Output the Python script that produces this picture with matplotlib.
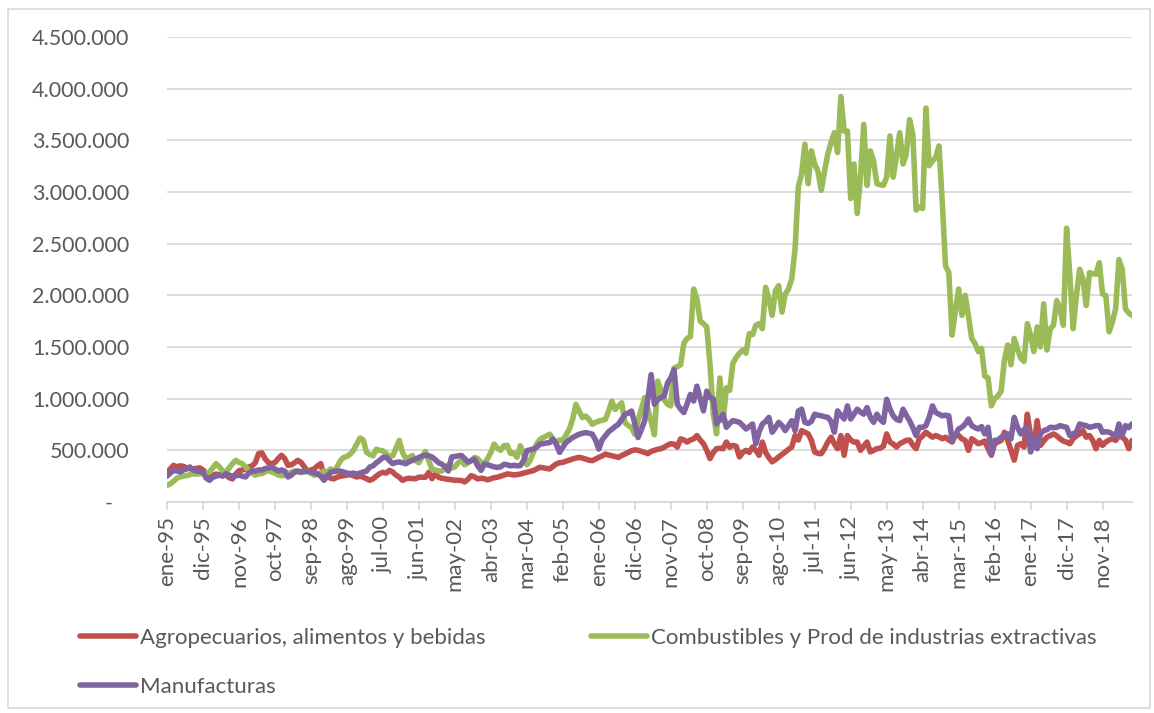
import matplotlib
matplotlib.use("Agg")
import matplotlib.pyplot as plt
from matplotlib.patches import Rectangle
from matplotlib.ticker import FuncFormatter

plt.rcParams['font.family'] = ['Lato', 'DejaVu Sans']

# === Data (thousands), monthly ene-95 .. ago-19 ===
meses = ["ene", "feb", "mar", "abr", "may", "jun", "jul", "ago", "sep", "oct", "nov", "dic"]

agro = [
    290, 320, 355, 340, 350, 345, 330, 323, 320, 325, 330, 310,  # 1995
    280, 240, 260, 270, 265, 258, 262, 235, 224, 270, 303, 310,  # 1996
    320, 339, 350, 380, 468, 475, 419, 380, 371, 383, 420, 452,  # 1997
    420, 355, 360, 380, 403, 383, 339, 300, 310, 320, 350, 371,  # 1998
    260, 250, 230, 224, 240, 250, 255, 260, 265, 255, 242, 250,  # 1999
    240, 225, 210, 224, 250, 274, 287, 280, 306, 290, 260, 240,  # 2000
    210, 224, 230, 226, 226, 240, 240, 240, 287, 226, 274, 240,  # 2001
    230, 224, 220, 215, 210, 210, 208, 194, 220, 255, 242, 224,  # 2002
    230, 225, 215, 225, 235, 240, 250, 260, 272, 268, 262, 265,  # 2003
    270, 280, 288, 295, 304, 320, 336, 330, 325, 320, 345, 368,  # 2004
    380, 384, 395, 405, 416, 425, 432, 425, 416, 405, 400, 415,  # 2005
    432, 445, 464, 455, 448, 440, 432, 450, 464, 480, 496, 505,  # 2006
    500, 490, 480, 468, 490, 500, 510, 516, 530, 550, 564, 560,  # 2007
    532, 611, 600, 580, 600, 611, 643, 600, 564, 500, 420, 480,  # 2008
    516, 520, 516, 580, 530, 548, 540, 436, 480, 500, 480, 532,  # 2009
    500, 452, 580, 480, 430, 389, 410, 436, 460, 484, 510, 532,  # 2010
    643, 600, 691, 675, 659, 596, 484, 470, 468, 516, 580, 627,  # 2011
    564, 516, 643, 452, 643, 600, 580, 580, 500, 540, 580, 484,  # 2012
    500, 516, 520, 540, 659, 580, 560, 532, 564, 580, 596, 600,  # 2013
    550, 516, 612, 640, 675, 650, 627, 643, 630, 612, 627, 600,  # 2014
    580, 643, 643, 612, 596, 500, 612, 590, 564, 575, 590, 516,  # 2015
    452, 564, 580, 596, 675, 596, 500, 405, 548, 564, 532, 850,  # 2016
    643, 532, 787, 548, 590, 627, 643, 659, 640, 612, 590, 580,  # 2017
    564, 612, 640, 659, 691, 627, 643, 596, 516, 596, 548, 580,  # 2018
    600, 612, 596, 643, 627, 600, 516, 596,                      # 2019
]

combustibles = [
    161, 175, 200, 230, 242, 250, 255, 265, 274, 270, 272, 275,
    278, 290, 330, 371, 340, 300, 290, 330, 370, 403, 383, 371,
    340, 306, 280, 260, 274, 274, 290, 306, 290, 280, 260, 255,
    258, 270, 290, 300, 290, 285, 290, 300, 280, 258, 270, 280,
    300, 290, 320, 300, 340, 400, 431, 440, 463, 500, 560, 620,
    600, 480, 460, 447, 511, 500, 495, 470, 440, 447, 520, 597,
    480, 420, 430, 450, 400, 380, 440, 490, 400, 320, 310, 300,
    300, 320, 360, 330, 340, 380, 400, 360, 380, 400, 431, 420,
    380, 370, 420, 480, 560, 520, 500, 544, 548, 470, 475, 432,
    544, 470, 360, 400, 480, 560, 606, 624, 640, 656, 610, 576,
    600, 592, 650, 704, 800, 944, 880, 816, 832, 800, 752, 770,
    784, 790, 800, 880, 976, 896, 930, 960, 768, 740, 720, 656,
    787, 900, 1010, 900, 780, 650, 1170, 1080, 990, 946, 930, 1296,
    1310, 1328, 1535, 1583, 1600, 2061, 1965, 1750, 1726, 1694, 1328, 850,
    660, 1200, 787, 1105, 1080, 1344, 1400, 1440, 1471, 1440, 1630, 1620,
    1710, 1726, 1678, 2077, 1965, 1806, 2045, 2093, 1838, 2013, 2061, 2161,
    2450, 3050, 3175, 3462, 3080, 3398, 3271, 3200, 3016, 3200, 3366, 3480,
    3574, 3382, 3924, 3590, 3590, 2937, 3271, 2793, 3143, 3653, 3064, 3398,
    3303, 3080, 3070, 3064, 3143, 3542, 3143, 3350, 3574, 3271, 3366, 3701,
    3558, 2825, 2857, 2840, 3812, 3255, 3300, 3335, 3446, 2900, 2284, 2220,
    1615, 1850, 2061, 1806, 2000, 1800, 1583, 1535, 1456, 1487, 1217, 1201,
    930, 1000, 1026, 1073, 1376, 1519, 1328, 1583, 1480, 1392, 1360, 1726,
    1615, 1456, 1694, 1500, 1917, 1471, 1678, 1710, 1949, 1870, 1710, 2650,
    2188, 1678, 1997, 2252, 2156, 1901, 2220, 2210, 2204, 2316, 2013, 1997,
    1647, 1742, 1870, 2347, 2252, 1870, 1830, 1806,
]

manufacturas = [
    250, 280, 306, 300, 290, 310, 320, 339, 310, 300, 295, 290,
    230, 210, 240, 250, 260, 250, 274, 260, 250, 255, 260, 250,
    242, 280, 300, 300, 310, 310, 323, 330, 339, 320, 300, 310,
    300, 242, 260, 290, 300, 290, 300, 295, 290, 280, 274, 250,
    210, 250, 287, 295, 300, 298, 290, 280, 274, 280, 270, 280,
    290, 300, 339, 350, 380, 403, 431, 435, 400, 371, 383, 387,
    380, 370, 390, 403, 415, 430, 445, 452, 447, 435, 410, 380,
    367, 340, 300, 435, 440, 447, 450, 420, 387, 400, 415, 350,
    306, 368, 360, 350, 340, 335, 340, 365, 360, 350, 355, 350,
    352, 400, 496, 505, 512, 530, 560, 565, 570, 576, 608, 560,
    480, 530, 576, 600, 624, 640, 656, 665, 672, 665, 656, 600,
    512, 600, 640, 680, 704, 730, 752, 800, 848, 860, 880, 760,
    624, 700, 784, 1000, 1233, 946, 990, 1010, 1026, 1150, 1201, 1280,
    946, 900, 866, 950, 1041, 978, 1121, 1000, 882, 1073, 1010, 1000,
    755, 800, 850, 723, 760, 787, 780, 771, 740, 707, 730, 755,
    564, 680, 755, 780, 819, 675, 720, 771, 740, 691, 740, 787,
    691, 880, 898, 771, 760, 780, 850, 840, 835, 825, 819, 780,
    675, 882, 840, 803, 930, 803, 850, 898, 870, 850, 914, 820,
    771, 850, 800, 771, 994, 900, 834, 800, 787, 898, 840, 787,
    720, 643, 723, 723, 740, 819, 930, 866, 850, 834, 840, 834,
    596, 650, 707, 723, 755, 803, 739, 720, 707, 730, 659, 723,
    468, 596, 600, 627, 640, 659, 612, 819, 723, 659, 700, 723,
    484, 627, 516, 659, 691, 700, 723, 720, 723, 739, 730, 723,
    643, 660, 675, 755, 745, 739, 723, 730, 739, 739, 675, 680,
    675, 659, 627, 755, 643, 739, 720, 755,
]

n = len(agro)
etiquetas = ["%s-%02d" % (meses[i % 12], (95 + i // 12) % 100) for i in range(n)]
x = list(range(n))

# === Figure ===
W, H = 1154, 713
fig = plt.figure(figsize=(W / 100, H / 100), dpi=100)
ax = fig.add_axes([167 / W, 1 - 502 / H, (1132 - 167) / W, (502 - 37) / H])

gris_txt = "#595959"
gris_lin = "#D9D9D9"

estilo = dict(lw=4.0, solid_capstyle="round", solid_joinstyle="round")
l1, = ax.plot(x, [v * 1000 for v in agro], color="#C0504D",
              label="Agropecuarios, alimentos y bebidas", **estilo)
l2, = ax.plot(x, [v * 1000 for v in combustibles], color="#9BBB59",
              label="Combustibles y Prod de industrias extractivas", **estilo)
l3, = ax.plot(x, [v * 1000 for v in manufacturas], color="#8064A2",
              label="Manufacturas", **estilo)

ax.set_xlim(0, n - 1)
ax.set_ylim(0, 4500000)
ax.set_yticks(range(0, 4500001, 500000))
ax.yaxis.set_major_formatter(FuncFormatter(
    lambda v, p: "-   " if v == 0 else "{:,.0f}".format(v).replace(",", ".")))
ticks_x = list(range(0, n, 11))
ax.set_xticks(ticks_x)
ax.set_xticklabels([etiquetas[i] for i in ticks_x], rotation=90)

ax.yaxis.grid(True, color=gris_lin, lw=1.3)
ax.set_axisbelow(True)
for s in ["top", "right", "left"]:
    ax.spines[s].set_visible(False)
ax.spines["bottom"].set_color(gris_lin)
ax.spines["bottom"].set_linewidth(1.3)
ax.tick_params(axis="y", length=0, pad=27, labelsize=15.5, labelcolor=gris_txt)
ax.tick_params(axis="x", length=6, width=1.3, color=gris_lin, pad=4,
               labelsize=16, labelcolor=gris_txt)

leg = fig.legend(handles=[l1, l3, l2], ncol=2, loc="upper left",
                 bbox_to_anchor=(80 / W, 1 - 628 / H), frameon=False,
                 fontsize=16, handlelength=2.5, handletextpad=0.2,
                 columnspacing=4.75, labelspacing=1.3, borderpad=0,
                 borderaxespad=0)
for t in leg.get_texts():
    t.set_color(gris_txt)

# outer chart border
fig.patches.append(Rectangle((8 / W, 5 / H), (1150 - 8) / W, (704 - 5) / H,
                             transform=fig.transFigure, fill=False,
                             edgecolor=gris_lin, lw=1.2))

fig.savefig("out.png", dpi=100)
